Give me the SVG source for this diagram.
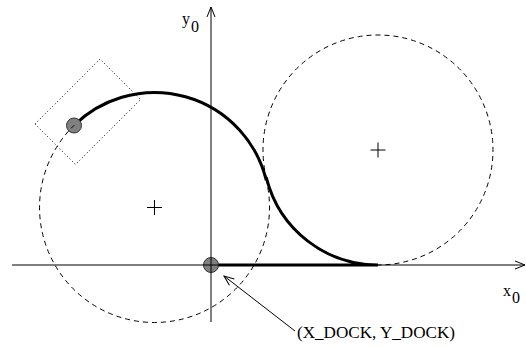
<svg xmlns="http://www.w3.org/2000/svg" width="526" height="347" viewBox="0 0 526 347">
<style>
.thin{fill:none;stroke:#000;stroke-width:1}
.dash{fill:none;stroke:#000;stroke-width:1;stroke-dasharray:5 4}
.dot{fill:none;stroke:#000;stroke-width:1;stroke-dasharray:1 2.5}
.thick{fill:none;stroke:#000;stroke-width:3}
.pt{fill:#808080;stroke:#333;stroke-width:1}
.lbl{font-family:"Liberation Serif","Times New Roman",serif;font-size:16px;fill:#000}
</style>
<defs>
<marker id="open" markerUnits="userSpaceOnUse" markerWidth="14" markerHeight="12" refX="11" refY="5" orient="auto">
<path d="M1,1 L11,5 L1,9" fill="none" stroke="#000" stroke-width="1"/>
</marker>
</defs>
<rect width="526" height="347" fill="#fff"/>
<g id="path-thick">
<path class="thick" d="M74.2,125.2 A115,115 0 0 1 265.9,178.85 L266.6,178.65 A115,115 0 0 0 378,265 L211,265"/>
</g>
<g id="start-point"><circle class="pt" cx="74" cy="125.5" r="7.5"/></g>
<g id="dock-point"><circle class="pt" cx="211" cy="265" r="7.5"/></g>
<g id="circle-left">
<path class="dash" d="M265.9,178.85 A115,115 0 1 1 74.2,125.2"/>
<path class="thin" d="M147,207.5 H162 M154.5,200 V215"/>
</g>
<g id="circle-right">
<path class="dash" d="M266.6,178.65 A115,115 0 1 1 378,265"/>
<path class="thin" d="M370.5,150 H385.5 M378,142.5 V157.5"/>
</g>
<g id="vehicle-box">
<polygon class="dot" points="35,124 100,59 140.5,99.5 75.5,164.5"/>
</g>
<g id="connectors">
<line class="thin" x1="12" y1="265" x2="525" y2="265" marker-end="url(#open)"/>
<line class="thin" x1="211" y1="322" x2="211" y2="7" marker-end="url(#open)"/>
<line class="thin" x1="295" y1="331" x2="224" y2="276" marker-end="url(#open)"/>
</g>
<g id="labels">
<text class="lbl" x="182" y="24">y</text>
<text class="lbl" x="191" y="32">0</text>
<text class="lbl" x="503" y="296">x</text>
<text class="lbl" x="512" y="303">0</text>
<text class="lbl" x="297" y="338" style="font-size:17px" textLength="158" lengthAdjust="spacingAndGlyphs">(X_DOCK, Y_DOCK)</text>
</g>
</svg>
